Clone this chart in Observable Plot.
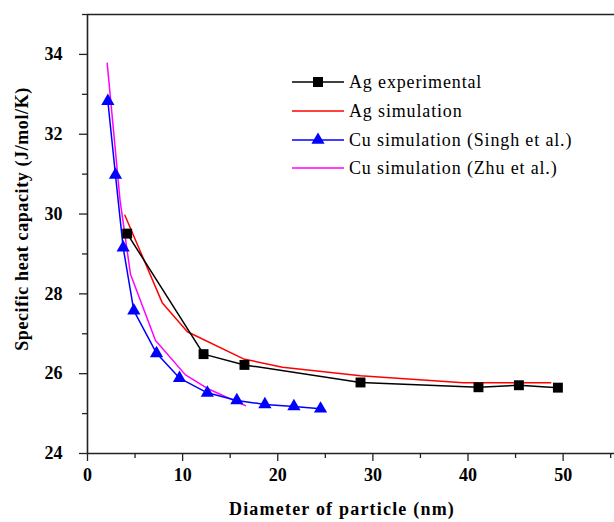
<!DOCTYPE html>
<html>
<head>
<meta charset="utf-8">
<script src="https://cdn.jsdelivr.net/npm/d3@7"></script>
<script src="https://cdn.jsdelivr.net/npm/@observablehq/plot@0.6"></script>
<style>
  html, body { margin: 0; padding: 0; background: #fff; }
  #chart { width: 614px; height: 522px; }
</style>
</head>
<body>
<div id="chart"></div>
<script>
// ---- data ----
const agExpX = [4.17, 12.2, 16.5, 28.7, 41.1, 45.35, 49.45];
const agExpY = [29.51, 26.49, 26.22, 25.78, 25.66, 25.71, 25.65];

const agSimX = [3.93, 7.85, 10.5, 16.4, 20.5, 28.7, 39.5, 48.7];
const agSimY = [29.97, 27.78, 27.05, 26.37, 26.16, 25.95, 25.77, 25.77];

const cuSinghX = [2.14, 2.94, 3.75, 4.87, 7.26, 9.67, 12.6, 15.7, 18.65, 21.7, 24.5];
const cuSinghY = [32.83, 30.98, 29.16, 27.58, 26.51, 25.89, 25.52, 25.33, 25.23, 25.18, 25.12];

const cuZhuX = [2.07, 3.42, 4.52, 7.15, 10.3, 12.6, 16.6];
const cuZhuY = [33.78, 30.35, 28.49, 26.83, 25.97, 25.63, 25.2];

const seriesNames = ["Ag experimental", "Ag simulation", "Cu simulation (Singh et al.)", "Cu simulation (Zhu et al.)"];
const seriesColors = ["#000000", "#ff0000", "#0000ff", "#ff00ff"];
const seriesSymbols = ["square", null, "triangle", null];

const xMajorTicks = [0, 10, 20, 30, 40, 50];
const xMinorTicks = [5, 15, 25, 35, 45, 55];
const yMajorTicks = [24, 26, 28, 30, 32, 34];
const yMinorTicks = [25, 27, 29, 31, 33, 35];

const xTitle = "Diameter of particle (nm)";
const yTitle = "Specific heat capacity (J/mol/K)";

// ---- build tables ----
const toRows = (xs, ys) => xs.map((x, i) => ({x, y: ys[i]}));
const agExp = toRows(agExpX, agExpY);
const agSim = toRows(agSimX, agSimY);
const cuSingh = toRows(cuSinghX, cuSinghY);
const cuZhu = toRows(cuZhuX, cuZhuY);

const serif = "Liberation Serif, Times New Roman, serif";

const chart = Plot.plot({
  width: 614,
  height: 522,
  marginLeft: 87,
  marginRight: 0,
  marginTop: 14,
  marginBottom: 69,
  style: {fontFamily: serif, fontSize: "18px", background: "#fff", color: "#000", overflow: "visible"},
  x: {domain: [0, 55.4], label: null},
  y: {domain: [24, 35], label: null},
  marks: [
    // minor ticks
    Plot.axisX(xMinorTicks, {tickSize: 5, tickFormat: () => "", strokeWidth: 1.3, stroke: "#222", label: null}),
    Plot.axisY(yMinorTicks, {tickSize: 5, tickFormat: () => "", strokeWidth: 1.3, stroke: "#222", label: null}),
    // major ticks
    Plot.axisX(xMajorTicks, {tickSize: 8, tickPadding: 7, fontWeight: "bold", fontSize: 18, fontFamily: serif, strokeWidth: 1.3, stroke: "#222", label: null}),
    Plot.axisY(yMajorTicks, {tickSize: 8, tickPadding: 17, fontWeight: "bold", fontSize: 18, fontFamily: serif, strokeWidth: 1.3, stroke: "#222", label: null}),
    // frame lines
    Plot.ruleX([0], {stroke: "#222", strokeWidth: 1.6}),
    Plot.ruleY([24], {stroke: "#222", strokeWidth: 1.6}),
    Plot.ruleY([35], {stroke: "#222", strokeWidth: 1.6}),
    // series
    Plot.line(agSim, {x: "x", y: "y", stroke: seriesColors[1], strokeWidth: 1.5}),
    Plot.line(cuZhu, {x: "x", y: "y", stroke: seriesColors[3], strokeWidth: 1.5}),
    Plot.line(cuSingh, {x: "x", y: "y", stroke: seriesColors[2], strokeWidth: 1.5}),
    Plot.dot(cuSingh, {x: "x", y: "y", symbol: "triangle", r: 4.9, fill: seriesColors[2], stroke: null}),
    Plot.line(agExp, {x: "x", y: "y", stroke: seriesColors[0], strokeWidth: 1.5}),
    Plot.dot(agExp, {x: "x", y: "y", symbol: "square", r: 5.6, fill: seriesColors[0], stroke: null}),
    // axis titles
    Plot.text([xTitle], {frameAnchor: "bottom", textAnchor: "middle", lineAnchor: "middle", dy: 56, dx: -9, fontWeight: "bold", fontSize: 18, fontFamily: serif, fill: "#000"}),
    Plot.text([yTitle], {frameAnchor: "left", textAnchor: "middle", lineAnchor: "middle", dx: -65, dy: -15, rotate: -90, fontWeight: "bold", fontSize: 18, fontFamily: serif, fill: "#000"})
  ]
});

document.getElementById("chart").appendChild(chart);

// letter spacing for axis titles
d3.select(chart).selectAll("text").filter(function() { return this.textContent === xTitle; }).style("letter-spacing", "1.2px");
d3.select(chart).selectAll("text").filter(function() { return this.textContent === yTitle; }).style("letter-spacing", "0.6px");

// ---- legend (drawn into the plot's svg) ----
const svg = d3.select(chart);
const leg = svg.append("g").attr("class", "legend").attr("text-anchor", "start");
const rowY = [82, 111, 140, 168];
seriesNames.forEach((name, i) => {
  const g = leg.append("g").attr("transform", `translate(0,${rowY[i]})`);
  g.append("line").attr("x1", 292).attr("x2", 344).attr("y1", 0).attr("y2", 0)
    .attr("stroke", seriesColors[i]).attr("stroke-width", 1.5);
  if (seriesSymbols[i]) {
    const sym = seriesSymbols[i] === "square" ? d3.symbolSquare : d3.symbolTriangle;
    const size = seriesSymbols[i] === "square" ? 100 : 75;
    g.append("path").attr("d", d3.symbol(sym, size)()).attr("transform", "translate(318,0)")
      .attr("fill", seriesColors[i]);
  }
  g.append("text").attr("x", 349).attr("y", 0).attr("dy", "0.32em").attr("text-anchor", "start")
    .attr("font-family", serif).attr("font-size", 18).attr("fill", "#000")
    .style("letter-spacing", "0.85px").text(name);
});
</script>
</body>
</html>
